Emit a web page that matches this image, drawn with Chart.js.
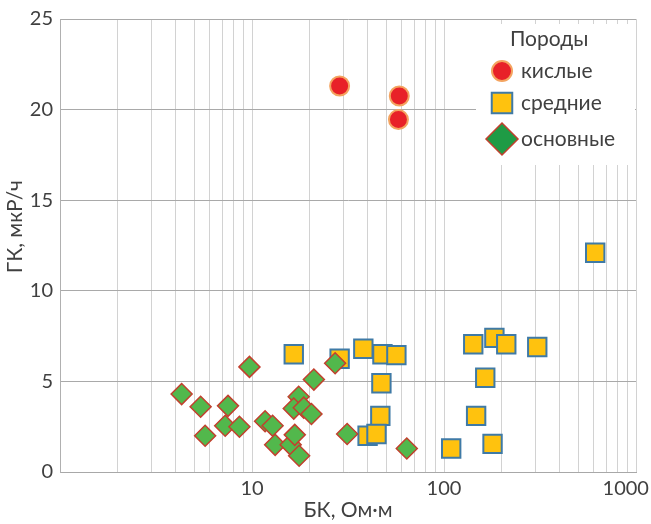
<!DOCTYPE html>
<html>
<head>
<meta charset="utf-8">
<script src="https://cdn.jsdelivr.net/npm/chart.js@4.4.1/dist/chart.umd.min.js"></script>
<style>
  html, body { margin: 0; padding: 0; background: #fff; }
</style>
</head>
<body>
<canvas id="chart" width="651" height="524"></canvas>
<script>
const FONT = 'Lato, "Open Sans", sans-serif'
const TEXT_COLOR = '#404040'

// данные: БК (Ом·м) и ГК (мкР/ч) по группам пород
const series_names = ['кислые', 'средние', 'основные']
const legend_title = 'Породы'

const acid_bk = [28.6, 58.5, 57.9]
const acid_gk = [21.3, 20.75, 19.45]

const middle_bk = [16.5, 28.6, 38, 47.8, 56.5, 47.2, 46.6, 40, 44.5, 109, 142, 183, 211, 306, 164, 147, 179, 613]
const middle_gk = [6.5, 6.25, 6.8, 6.5, 6.45, 4.9, 3.1, 2.0, 2.1, 1.3, 7.05, 7.4, 7.05, 6.9, 5.2, 3.1, 1.55, 12.1]

const basic_bk = [4.3, 5.4, 5.7, 7.5, 7.25, 8.6, 9.7, 11.7, 12.8, 13.2, 15.9, 16.7, 17.6, 17.5, 16.5, 18.6, 20.4, 21.0, 27.1, 31.3, 64]
const basic_gk = [4.3, 3.6, 2.0, 3.65, 2.55, 2.5, 5.8, 2.8, 2.55, 1.5, 1.5, 2.05, 0.9, 4.15, 3.5, 3.55, 3.2, 5.1, 6.0, 2.1, 1.3]

// линии сетки по оси X (логарифмическая шкала) и подписанные значения
const x_grid_values = [1, 2, 3, 4, 5, 6, 7, 8, 9, 10, 20, 30, 40, 50, 60, 70, 80, 90,
  100, 200, 300, 400, 500, 600, 700, 800, 900, 1000]
const x_labeled = [10, 100, 1000]
const y_min = 0, y_max = 25, y_step = 5

const x_title = 'БК, Ом·м'
const y_title = 'ГК, мкР/ч'

const to_points = (xs, ys) => xs.map((x, i) => ({ x: x, y: ys[i] }))

// легенда рисуется внутри области графика, поверх сетки
const legend_box = {
  id: 'legend_box',
  afterDraw(chart) {
    const ctx = chart.ctx
    const area = chart.chartArea
    const x0 = area.right - 160
    const y0 = area.top
    ctx.save()
    ctx.fillStyle = '#ffffff'
    ctx.fillRect(x0, y0 + 5, 159, 141)
    ctx.fillStyle = TEXT_COLOR
    ctx.font = '21px ' + FONT
    ctx.textAlign = 'left'
    ctx.textBaseline = 'middle'
    ctx.fillText(legend_title, x0 + 34, y0 + 20)
    const rows = [52, 84, 120]
    const sizes = [10, 14.5, 16]
    chart.data.datasets.forEach((ds, i) => {
      ctx.fillStyle = ds.legendColor || ds.backgroundColor
      ctx.strokeStyle = ds.borderColor
      ctx.lineWidth = ds.borderWidth
      Chart.helpers.drawPoint(ctx, { pointStyle: ds.pointStyle, radius: sizes[i], borderWidth: ds.borderWidth, rotation: 0 }, x0 + 26, y0 + rows[i])
      ctx.fillStyle = TEXT_COLOR
      ctx.fillText(ds.label, x0 + 45, y0 + rows[i])
    })
    ctx.restore()
  }
}

const chart = new Chart(document.getElementById('chart'), {
  type: 'scatter',
  data: {
    datasets: [
      {
        label: series_names[0],
        data: to_points(acid_bk, acid_gk),
        pointStyle: 'circle',
        pointRadius: 9.5,
        backgroundColor: '#e82128',
        borderColor: '#f4a460',
        borderWidth: 2,
        order: 3
      },
      {
        label: series_names[1],
        data: to_points(middle_bk, middle_gk),
        pointStyle: 'rect',
        pointRadius: 13,
        backgroundColor: '#ffc20e',
        borderColor: '#3f7aa6',
        borderWidth: 2,
        order: 2
      },
      {
        label: series_names[2],
        data: to_points(basic_bk, basic_gk),
        pointStyle: 'rectRot',
        pointRadius: 10.5,
        backgroundColor: '#52b84c',
        legendColor: '#1f9b45',
        borderColor: '#c2402e',
        borderWidth: 1.5,
        order: 1
      }
    ]
  },
  options: {
    responsive: false,
    animation: false,
    layout: { padding: { top: 17, right: 14, left: 0, bottom: 0 } },
    plugins: {
      legend: { display: false },
      tooltip: { enabled: false }
    },
    scales: {
      x: {
        type: 'logarithmic',
        min: 1,
        max: 1000,
        afterBuildTicks(scale) {
          scale.ticks = x_grid_values.map(v => ({ value: v }))
        },
        afterFit(scale) {
          scale.height = 52
          scale.paddingRight = 0
          scale.paddingLeft = 0
        },
        grid: { color: '#d2d2d2', lineWidth: 1, drawTicks: false },
        border: { color: '#a8a8a8', width: 1 },
        ticks: {
          autoSkip: false,
          maxRotation: 0,
          padding: 5,
          color: TEXT_COLOR,
          font: { family: FONT, size: 20 },
          // у правого края подпись смещена влево, как в оригинале
          callback: (v) => {
            if (!x_labeled.includes(v)) return ''
            return v === 1000 ? '1000    ' : String(v)
          }
        },
        title: {
          display: true,
          text: x_title,
          color: TEXT_COLOR,
          font: { family: FONT, size: 21 },
          padding: { top: 0, bottom: 1 }
        }
      },
      y: {
        min: y_min,
        max: y_max,
        afterFit(scale) {
          scale.width = 60
        },
        grid: { color: '#a9a9a9', lineWidth: 1, drawTicks: false },
        border: { color: '#b0b0b0', width: 1 },
        ticks: {
          stepSize: y_step,
          padding: 7,
          color: TEXT_COLOR,
          font: { family: FONT, size: 20 }
        },
        title: {
          display: true,
          // пробелы в начале сдвигают подпись чуть выше, как в оригинале
          text: '       ' + y_title,
          color: TEXT_COLOR,
          font: { family: FONT, size: 21 },
          padding: { top: 3, bottom: 0 }
        }
      }
    }
  },
  plugins: [legend_box]
})
</script>
</body>
</html>
